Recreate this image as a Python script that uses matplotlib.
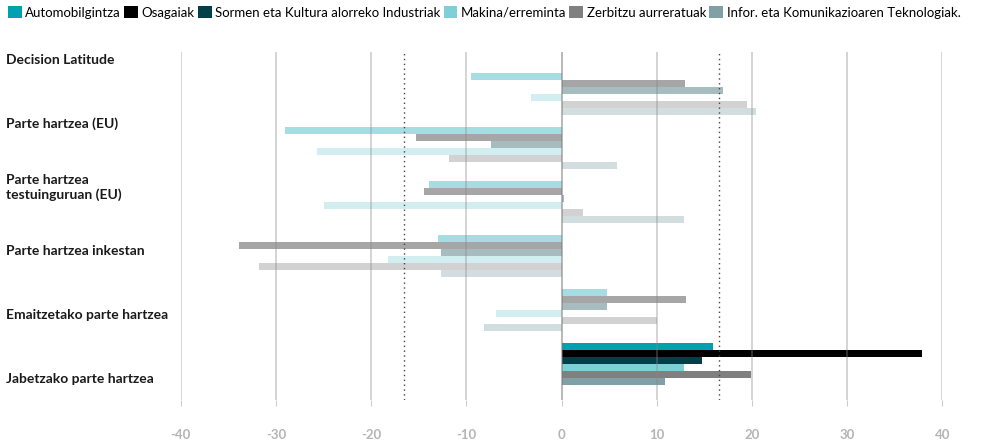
import numpy as np
import matplotlib
matplotlib.use("Agg")
import matplotlib.pyplot as plt
import matplotlib.transforms as mtransforms
from matplotlib.patches import Patch

plt.rcParams['font.family'] = ['Lato', 'DejaVu Sans']

# Categories (top to bottom)
categories = [
    "Decision Latitude",
    "Parte hartzea (EU)",
    "Parte hartzea\ntestuinguruan (EU)",
    "Parte hartzea inkestan",
    "Emaitzetako parte hartzea",
    "Jabetzako parte hartzea",
]

series_names = [
    "Automobilgintza",
    "Osagaiak",
    "Sormen eta Kultura alorreko Industriak",
    "Makina/erreminta",
    "Zerbitzu aurreratuak",
    "Infor. eta Komunikazioaren Teknologiak.",
]
series_colors = ["#00a0b0", "#000000", "#004049", "#7fcfd6", "#808080", "#7fa0a5"]

# values per series, one per category
automobilgintza = [-9.5, -29.0, -13.9, -13.0, 4.8, 15.9]
osagaiak = [13.0, -15.3, -14.4, -33.9, 13.1, 37.9]
sormen = [17.0, -7.4, 0.3, -12.7, 4.8, 14.8]
makina = [-3.2, -25.7, -24.9, -18.2, -6.9, 12.9]
zerbitzu = [19.5, -11.8, 2.3, -31.8, 10.0, 19.9]
infor = [20.4, 5.8, 12.9, -12.7, -8.1, 10.9]

all_series = [automobilgintza, osagaiak, sormen, makina, zerbitzu, infor]
highlight = 5          # category drawn at full opacity
ref_value = 16.5       # dotted reference lines at +/- this value
x_ticks = [-40, -30, -20, -10, 0, 10, 20, 30, 40]

fig = plt.figure(figsize=(9.82, 4.42), dpi=100)
ax = fig.add_axes([180.7 / 982, 1 - 400 / 442, (942.3 - 180.7) / 982, (400 - 52) / 442])

bar_h = 7 / 54
y_base = np.arange(len(categories))
for j, (vals, col) in enumerate(zip(all_series, series_colors)):
    ys = y_base + (j - 2.5) * bar_h
    for i, v in enumerate(vals):
        ax.barh(ys[i], v, height=bar_h, color=col, alpha=1.0 if i == highlight else 0.35,
                linewidth=0, zorder=2)

# grid lines on top of the bars
for t in x_ticks:
    ax.axvline(t, color="#777777" if t == 0 else "#888888",
               alpha=0.6 if t == 0 else 0.42, lw=1.2, zorder=3)
for r in (-ref_value, ref_value):
    ax.axvline(r, color="#444444", lw=1, linestyle=(0, (1, 2.5)), zorder=4)

ax.set_xlim(-40, 40)
ax.set_ylim((400 - 93.5) / 54, (52 - 93.5) / 54)
ax.set_xticks(x_ticks)
ax.set_xticklabels([str(t) for t in x_ticks], fontsize=9.5, fontweight="bold", color="#b5b5b5")
ax.tick_params(axis="x", length=4, color="#cccccc", pad=17)
ax.set_yticks([])
for s in ax.spines.values():
    s.set_visible(False)

# category labels on the left
trans = mtransforms.blended_transform_factory(fig.transFigure, ax.transData)
for i, name in enumerate(categories):
    ax.text(6 / 982, (60 + 63.8 * i - 93.5) / 54, name, transform=trans,
            ha="left", va="center", fontsize=10, fontweight="bold", color="#1a1a1a",
            linespacing=1.25)

handles = [Patch(facecolor=c, edgecolor="none") for c in series_colors]
fig.legend(handles, series_names, ncol=6, loc="upper left", bbox_to_anchor=(0.0, 1.005),
           frameon=False, fontsize=9.5, handlelength=1.05, handleheight=1.1,
           handletextpad=0.25, columnspacing=0.25, borderaxespad=0.2)

fig.savefig("out.png", dpi=100)
